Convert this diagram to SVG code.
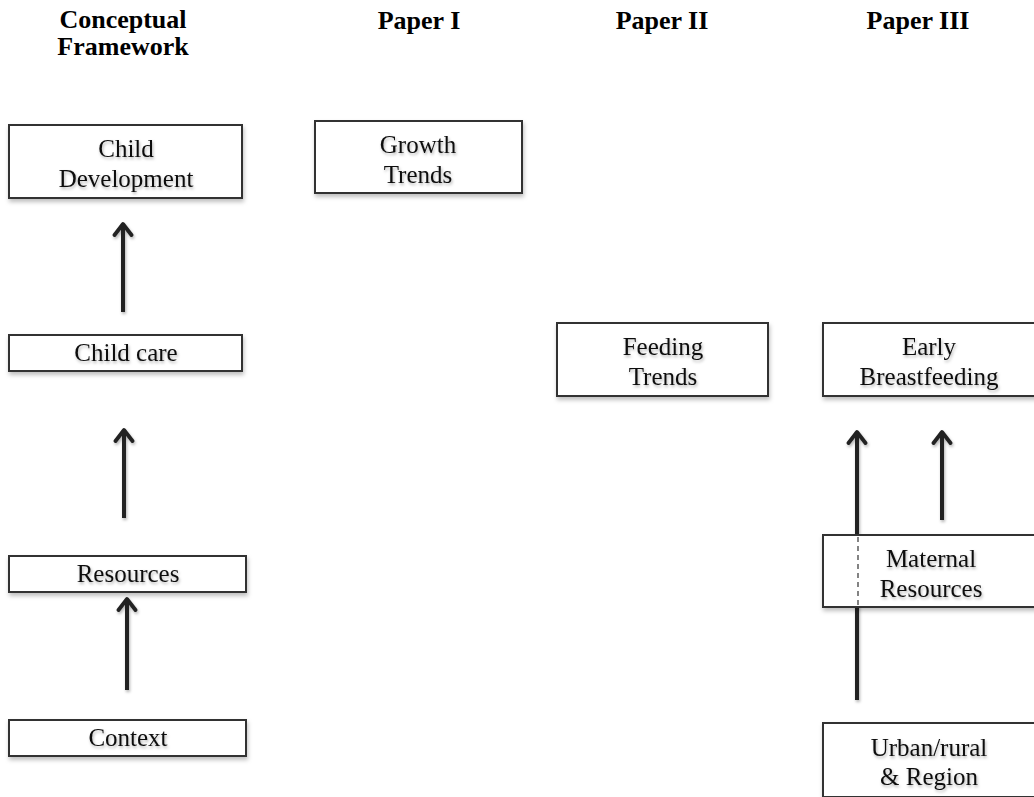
<svg xmlns="http://www.w3.org/2000/svg" width="1034" height="797" viewBox="0 0 1034 797">
<defs>
<filter id="sh" x="-10%" y="-20%" width="130%" height="150%">
<feDropShadow dx="1" dy="3" stdDeviation="2" flood-color="#000" flood-opacity="0.25"/>
</filter>
<filter id="lsh" filterUnits="userSpaceOnUse" x="0" y="0" width="1034" height="797">
<feDropShadow dx="1" dy="2" stdDeviation="1.5" flood-color="#000" flood-opacity="0.3"/>
</filter>
<filter id="tsh" x="-10%" y="-20%" width="130%" height="160%">
<feDropShadow dx="1" dy="2" stdDeviation="1.5" flood-color="#000" flood-opacity="0.3"/>
</filter>
<marker id="ah" markerWidth="18" markerHeight="22" refX="14" refY="11" orient="auto" markerUnits="userSpaceOnUse" viewBox="0 0 18 22">
<path d="M3,2.5 L14,11 L3,19.5" fill="none" stroke="#222" stroke-width="3.8" stroke-linecap="round" stroke-linejoin="round"/>
</marker>
</defs>
<style>
.box{fill:#fff;stroke:#333;stroke-width:2;filter:url(#sh)}
.t{font-family:"Liberation Serif",serif;font-size:25px;fill:#111;text-anchor:middle;filter:url(#tsh)}
.h{font-family:"Liberation Serif",serif;font-size:26px;font-weight:bold;fill:#000;text-anchor:middle}
.c{stroke:#222;stroke-width:4;fill:none}
</style>
<rect width="1034" height="797" fill="#fff"/>
<g id="headings">
<text class="h" x="123" y="28">Conceptual</text>
<text class="h" x="123" y="55">Framework</text>
<text class="h" x="419" y="29">Paper I</text>
<text class="h" x="662" y="29">Paper II</text>
<text class="h" x="918" y="29">Paper III</text>
</g>
<g id="connectors" filter="url(#lsh)">
<line class="c" x1="123" y1="312" x2="123" y2="224" marker-end="url(#ah)"/>
<line class="c" x1="124" y1="518" x2="124" y2="430" marker-end="url(#ah)"/>
<line class="c" x1="127" y1="690" x2="127" y2="599" marker-end="url(#ah)"/>
<line class="c" x1="942" y1="520" x2="942" y2="432" marker-end="url(#ah)"/>
<line class="c" x1="857" y1="700" x2="857" y2="432" marker-end="url(#ah)"/>
</g>
<g id="child-development">
<rect class="box" x="9" y="125" width="233" height="73"/>
<text class="t" x="126" y="157">Child</text>
<text class="t" x="126" y="187">Development</text>
</g>
<g id="growth-trends">
<rect class="box" x="315" y="121" width="207" height="72"/>
<text class="t" x="418" y="153">Growth</text>
<text class="t" x="418" y="183">Trends</text>
</g>
<g id="child-care">
<rect class="box" x="9" y="335" width="233" height="36"/>
<text class="t" x="126" y="361">Child care</text>
</g>
<g id="resources">
<rect class="box" x="9" y="556" width="237" height="36"/>
<text class="t" x="128" y="582">Resources</text>
</g>
<g id="context">
<rect class="box" x="9" y="720" width="237" height="36"/>
<text class="t" x="128" y="746">Context</text>
</g>
<g id="feeding-trends">
<rect class="box" x="557" y="323" width="211" height="73"/>
<text class="t" x="663" y="355">Feeding</text>
<text class="t" x="663" y="385">Trends</text>
</g>
<g id="early-breastfeeding">
<rect class="box" x="823" y="323" width="213" height="73"/>
<text class="t" x="929" y="355">Early</text>
<text class="t" x="929" y="385">Breastfeeding</text>
</g>
<g id="maternal-resources">
<rect class="box" x="823" y="535" width="213" height="72"/>
<line x1="858" y1="537" x2="858" y2="605" stroke="#333" stroke-width="1.2" stroke-dasharray="5,4"/>
<text class="t" x="931" y="567">Maternal</text>
<text class="t" x="931" y="597">Resources</text>
</g>
<g id="urban-rural-region">
<rect class="box" x="823" y="723" width="213" height="74"/>
<text class="t" x="929" y="756">Urban/rural</text>
<text class="t" x="929" y="785">&amp; Region</text>
</g>
</svg>
